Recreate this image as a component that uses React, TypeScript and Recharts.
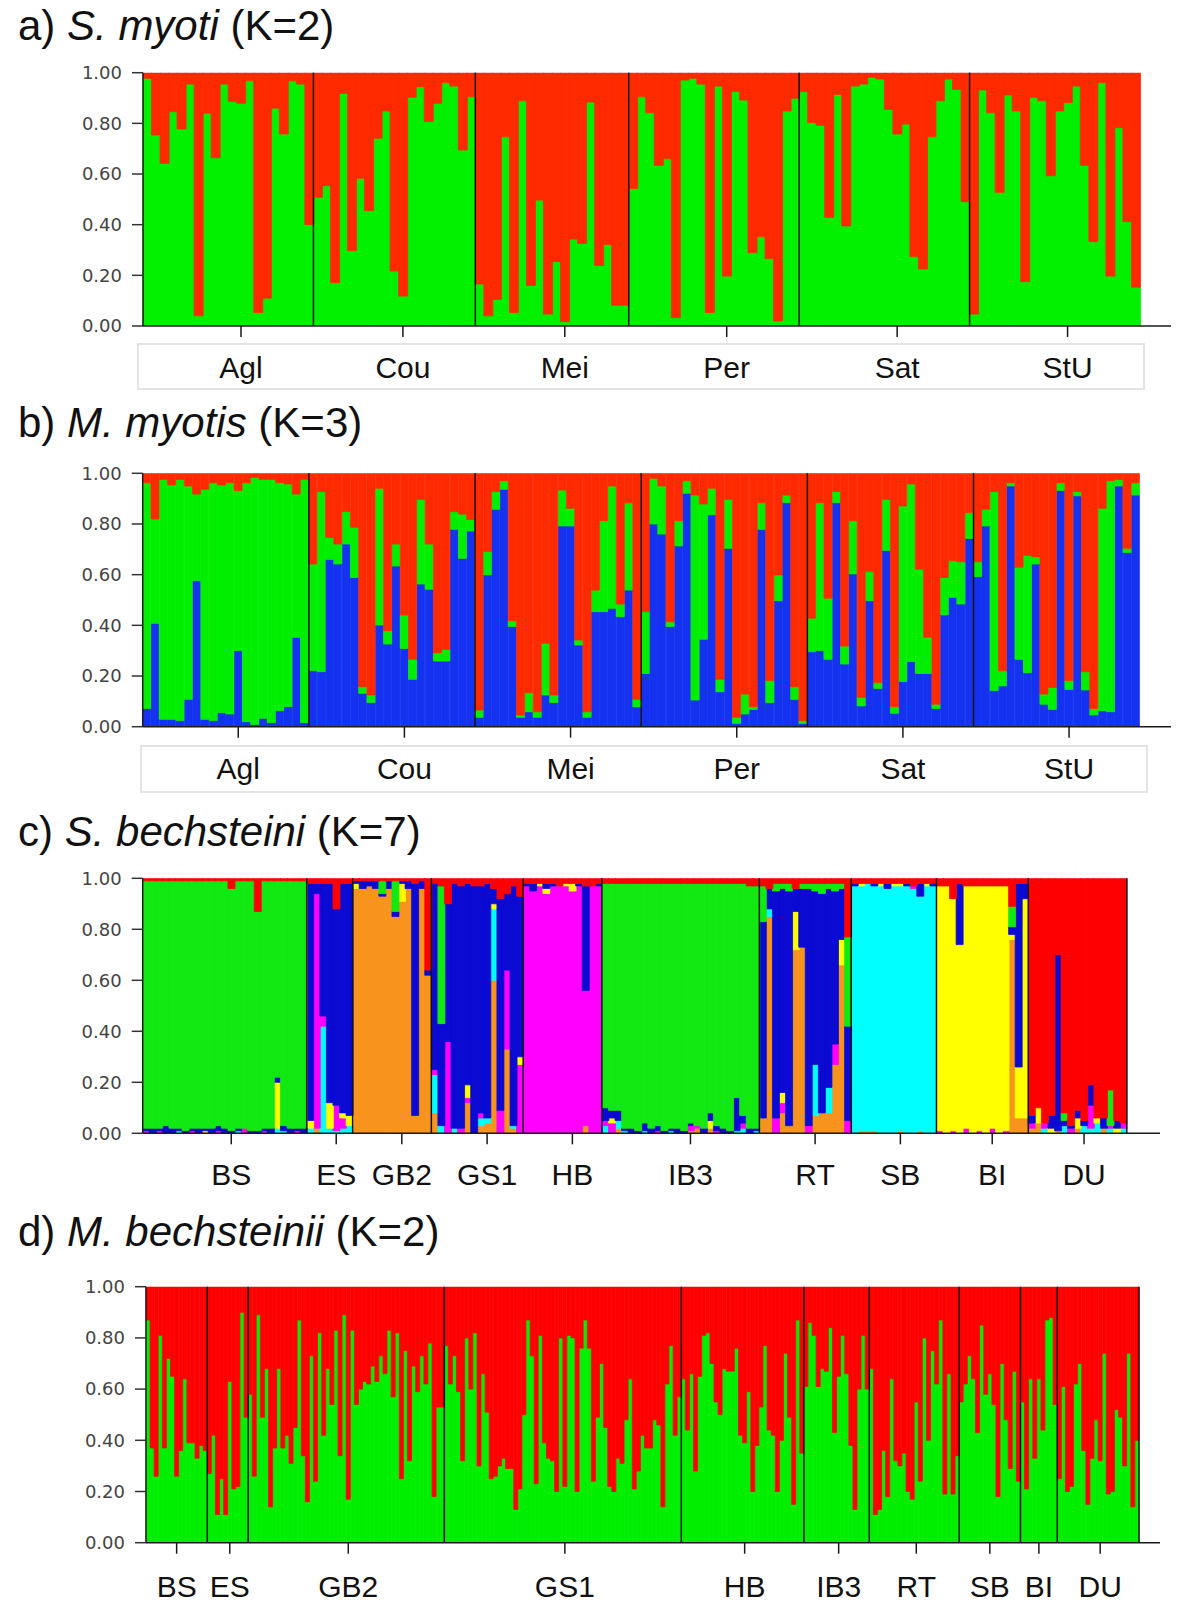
import React from 'react'
import { BarChart, Bar, XAxis, YAxis, ReferenceLine } from 'recharts'

// a) S. myoti (K=2): green membership per individual, red = the rest
const popsA = ['Agl', 'Cou', 'Mei', 'Per', 'Sat', 'StU']
const sizesA = [20, 19, 18, 20, 20, 20]
const greenA = [
  0.978, 0.754, 0.642, 0.846, 0.778, 0.955, 0.04, 0.84, 0.664, 0.955, 0.886, 0.879, 0.968, 0.053, 0.11, 0.86, 0.758, 0.968, 0.955, 0.4,
  0.508, 0.554, 0.171, 0.918, 0.297, 0.583, 0.455, 0.741, 0.849, 0.217, 0.118, 0.903, 0.945, 0.807, 0.879, 0.961, 0.947, 0.695, 0.905,
  0.166, 0.04, 0.105, 0.747, 0.053, 0.889, 0.16, 0.497, 0.047, 0.254, 0.017, 0.343, 0.326, 0.884, 0.239, 0.322, 0.082, 0.082,
  0.543, 0.905, 0.842, 0.634, 0.66, 0.033, 0.971, 0.978, 0.955, 0.053, 0.947, 0.197, 0.926, 0.892, 0.289, 0.353, 0.266, 0.02, 0.849, 0.899,
  0.925, 0.803, 0.792, 0.429, 0.914, 0.395, 0.947, 0.955, 0.982, 0.975, 0.855, 0.758, 0.797, 0.274, 0.225, 0.747, 0.889, 0.975, 0.934, 0.491,
  0.047, 0.932, 0.842, 0.528, 0.912, 0.849, 0.175, 0.903, 0.889, 0.593, 0.849, 0.882, 0.947, 0.634, 0.333, 0.961, 0.197, 0.783, 0.412, 0.153,
]

// b) M. myotis (K=3): blue share, and top of the green segment (blue + green); red fills the rest
const popsB = ['Agl', 'Cou', 'Mei', 'Per', 'Sat', 'StU']
const sizesB = [20, 20, 20, 20, 20, 20]
const blueB = [
  0.072, 0.408, 0.029, 0.029, 0.024, 0.108, 0.576, 0.029, 0.024, 0.055, 0.05, 0.3, 0.02, 0.009, 0.033, 0.016, 0.063, 0.079, 0.353, 0.016,
  0.221, 0.217, 0.66, 0.642, 0.721, 0.589, 0.132, 0.095, 0.401, 0.326, 0.634, 0.309, 0.187, 0.563, 0.542, 0.259, 0.259, 0.779, 0.664, 0.772,
  0.037, 0.599, 0.858, 0.937, 0.395, 0.037, 0.059, 0.037, 0.125, 0.095, 0.792, 0.792, 0.322, 0.037, 0.454, 0.454, 0.467, 0.434, 0.539, 0.078,
  0.21, 0.8, 0.76, 0.395, 0.713, 0.921, 0.105, 0.345, 0.836, 0.138, 0.704, 0.013, 0.05, 0.068, 0.779, 0.095, 0.497, 0.884, 0.108, 0.013,
  0.296, 0.3, 0.266, 0.884, 0.247, 0.603, 0.082, 0.497, 0.151, 0.695, 0.053, 0.178, 0.257, 0.21, 0.21, 0.072, 0.441, 0.511, 0.484, 0.743,
  0.592, 0.792, 0.142, 0.161, 0.95, 0.266, 0.213, 0.642, 0.089, 0.068, 0.932, 0.147, 0.911, 0.145, 0.046, 0.063, 0.059, 0.95, 0.687, 0.914,
]
const greenTopB = [
  0.963, 0.82, 0.976, 0.954, 0.976, 0.95, 0.918, 0.937, 0.963, 0.954, 0.963, 0.932, 0.963, 0.984, 0.976, 0.976, 0.963, 0.958, 0.918, 0.976,
  0.642, 0.928, 0.747, 0.721, 0.849, 0.787, 0.158, 0.125, 0.941, 0.379, 0.721, 0.441, 0.266, 0.897, 0.721, 0.292, 0.305, 0.849, 0.839, 0.818,
  0.066, 0.691, 0.928, 0.971, 0.418, 0.046, 0.134, 0.059, 0.329, 0.125, 0.934, 0.862, 0.342, 0.059, 0.539, 0.813, 0.95, 0.484, 0.884, 0.108,
  0.454, 0.98, 0.95, 0.414, 0.813, 0.971, 0.914, 0.879, 0.941, 0.187, 0.897, 0.037, 0.129, 0.079, 0.884, 0.182, 0.599, 0.914, 0.158, 0.024,
  0.428, 0.884, 0.507, 0.928, 0.318, 0.813, 0.116, 0.612, 0.174, 0.897, 0.079, 0.871, 0.958, 0.621, 0.353, 0.089, 0.589, 0.655, 0.651, 0.845,
  0.651, 0.858, 0.928, 0.221, 0.963, 0.629, 0.676, 0.671, 0.129, 0.155, 0.963, 0.182, 0.928, 0.217, 0.072, 0.862, 0.971, 0.976, 0.704, 0.963,
]

// c) S. bechsteini (K=7): per individual, percent in each cluster
// o orange, c cyan, m magenta, y yellow, b blue, g green, r red
const popsC = ['BS', 'ES', 'GB2', 'GS1', 'HB', 'IB3', 'RT', 'SB', 'BI', 'DU']
const bsC = [
  'm1 b1 g97 r1', 'b2 g97 r1', 'm1 b1 g97 r1', 'b3 g96 r1', 'b2 g97 r1', 'c1 b1 g97 r1', 'b1 g98 r1', 'm1 b1 g97 r1',
  'b2 g97 r1', 'y1 b1 g97 r1', 'b2 g97 r1', 'm1 b2 g96 r1', 'b2 g97 r1', 'b1 g95 r4', 'c1 b1 g97 r1', 'm2 g97 r1',
  'b1 g98 r1', 'b1 g86 r13', 'm1 b1 g97 r1', 'b2 g97 r1', 'c2 y18 b2 g77 r1', 'c1 b2 g96 r1', 'b2 g97 r1', 'm1 b1 g97 r1', 'b2 g97 r1',
]
const esC = ['y3 c2 b93 r2', 'o2 m92 b4 r2', 'c42 m4 b52 r2', 'y10 c2 b86 r2', 'c1 m10 b77 r12', 'c2 m4 y2 b90 r2', 'c3 y4 b91 r2']
const gb2C = [
  'o96 y2 b1 r1', 'o96 b3 r1', 'o97 b2 r1', 'o96 b3 r1', 'o93 g5 b1 r1', 'o96 b3 r1',
  'o85 b2 g12 r1', 'o91 y7 b1 r1', 'o96 b3 r1', 'o7 b91 r2', 'o96 b3 r1', 'o62 b2 r36',
]
const gs1C = [
  'o8 c15 m2 b73 r2', 'c3 b40 g54 r3', 'm36 b54 r10', 'c2 b96 r2', 'm2 b95 r3', 'o12 y5 m2 b79 r2', 'b97 r3',
  'o3 c3 m2 b89 r3', 'o4 c2 b92 r2', 'o60 c28 y2 b6 r4', 'm9 b83 r8', 'o33 m31 b30 r6', 'o2 c1 b94 r3', 'm27 y3 b63 r7',
]
const hbC = [
  'm97 b1 r2', 'm95 b3 r2', 'm97 y1 r2', 'm94 y2 b2 r2', 'm97 b1 r2', 'm97 r3',
  'm97 y1 r2', 'm95 y3 r2', 'm97 b1 r2', 'o3 m53 b41 r3', 'm97 r3', 'm97 b1 r2',
]
const ib3C = [
  'c3 m2 b5 g88 r2', 'm4 y2 b3 g89 r2', 'c3 o2 b4 g89 r2', 'c1 b1 g96 r2', 'b2 g96 r2', 'b1 g97 r2',
  'c1 b3 g94 r2', 'b2 g96 r2', 'm1 b2 g95 r2', 'b1 g97 r2', 'c1 b1 g96 r2', 'b2 g96 r2',
  'b1 g97 r2', 'o1 m2 b1 g94 r2', 'o2 m1 g95 r2', 'b2 g96 r2', 'o2 y3 b3 g90 r2', 'm1 b2 g95 r2',
  'b2 g96 r2', 'b1 g97 r2', 'c1 b13 g84 r2', 'c2 m2 b3 g91 r2', 'b2 g95 r3', 'c1 b1 g95 r3',
]
const rtC = [
  'o6 b77 g14 r3', 'o85 c3 b8 r4', 'm6 b89 g3 r2', 'o8 m4 y4 b80 g2 r2', 'o3 b92 g3 r2', 'o72 y15 b9 r4', 'o73 b23 g2 r2',
  'm3 b93 g2 r2', 'o7 c20 b68 g3 r2', 'o8 b86 g4 r2', 'o8 c10 b78 g2 r2', 'o27 m8 b60 g3 r2', 'o66 y10 b20 g2 r2', 'm5 b37 g35 r23',
]
const sbC = [
  'c97 b1 r2', 'o1 c96 y1 r2', 'o1 c97 r2', 'o1 c96 b1 r2', 'c97 y1 r2', 'c96 b2 r2', 'c97 y1 r2',
  'o1 c96 y1 r2', 'c97 b1 r2', 'c96 m1 r3', 'o1 c92 b5 r2', 'c97 y1 r2', 'c97 b1 r2',
]
const biC = [
  'm1 y96 r3', 'y97 r3', 'm1 y91 r8', 'y74 b24 r2', 'm2 y95 r3', 'y97 r3', 'm1 y96 r3',
  'y97 r3', 'm2 y95 r3', 'y97 r3', 'm1 y96 r3', 'o76 y2 b3 g8 r11', 'o6 y20 b72 r2', 'o6 y86 b6 r2',
]
const duC = [
  'o2 m2 b3 r93', 'o4 y6 r90', 'c2 m2 r96', 'y2 b5 r93', 'o1 b69 r30', 'c3 b2 g3 r92', 'm2 b1 r97', 'o2 y4 b3 r91',
  'c3 b2 r95', 'c2 m9 b8 r81', 'c4 y2 r94', 'o2 b4 r94', 'c2 m1 g14 r83', 'y2 b3 r95', 'm2 c2 r96',
]

// d) M. bechsteinii (K=2): green membership per individual
const popsD = ['BS', 'ES', 'GB2', 'GS1', 'HB', 'IB3', 'RT', 'SB', 'BI', 'DU']
const bsD = [0.87, 0.37, 0.26, 0.81, 0.37, 0.72, 0.65, 0.26, 0.36, 0.64, 0.39, 0.39, 0.33, 0.38, 0.36]
const esD = [0.27, 0.42, 0.11, 0.25, 0.11, 0.63, 0.21, 0.22, 0.9, 0.49]
const gb2D = [
  0.58, 0.26, 0.89, 0.49, 0.68, 0.14, 0.37, 0.68, 0.37, 0.42, 0.31, 0.45, 0.87, 0.34, 0.16, 0.73, 0.24, 0.82, 0.42, 0.68,
  0.54, 0.83, 0.34, 0.89, 0.17, 0.83, 0.54, 0.6, 0.63, 0.62, 0.69, 0.63, 0.73, 0.66, 0.83, 0.57, 0.82, 0.25, 0.75, 0.32,
  0.69, 0.59, 0.73, 0.62, 0.78, 0.18, 0.53, 0.53,
]
const gs1D = [
  0.77, 0.62, 0.73, 0.59, 0.32, 0.8, 0.6, 0.82, 0.3, 0.66, 0.51, 0.25, 0.26, 0.3, 0.33, 0.29, 0.29, 0.13, 0.21, 0.5,
  0.87, 0.73, 0.23, 0.81, 0.39, 0.33, 0.32, 0.2, 0.8, 0.22, 0.81, 0.8, 0.2, 0.76, 0.87, 0.76, 0.24, 0.49, 0.7, 0.45,
  0.22, 0.2, 0.33, 0.31, 0.48, 0.64, 0.21, 0.28, 0.42, 0.37, 0.37, 0.48, 0.46, 0.14, 0.62, 0.77, 0.42, 0.57,
]
const hbD = [
  0.64, 0.44, 0.66, 0.28, 0.65, 0.81, 0.82, 0.7, 0.55, 0.5, 0.68, 0.67, 0.67, 0.76, 0.42, 0.39, 0.59, 0.2, 0.38, 0.53,
  0.77, 0.44, 0.42, 0.2, 0.4, 0.74, 0.49, 0.15, 0.87, 0.35,
]
const ib3D = [0.61, 0.86, 0.81, 0.61, 0.68, 0.67, 0.84, 0.43, 0.65, 0.81, 0.66, 0.38, 0.13, 0.6, 0.81, 0.6]
const rtD = [0.68, 0.11, 0.13, 0.36, 0.18, 0.64, 0.32, 0.3, 0.35, 0.2, 0.17, 0.55, 0.24, 0.8, 0.4, 0.75, 0.62, 0.87, 0.19, 0.66, 0.19, 0.34]
const sbD = [0.55, 0.62, 0.73, 0.64, 0.43, 0.85, 0.58, 0.66, 0.54, 0.18, 0.7, 0.48, 0.29, 0.67, 0.24]
const biD = [0.55, 0.21, 0.64, 0.33, 0.64, 0.44, 0.87, 0.88, 0.54]
const duD = [0.25, 0.61, 0.2, 0.22, 0.62, 0.7, 0.36, 0.15, 0.33, 0.48, 0.32, 0.74, 0.19, 0.2, 0.52, 0.49, 0.3, 0.74, 0.14, 0.4]

const FONT = 'Liberation Sans, Arial, Helvetica, sans-serif'
const KEYS_C = ['o', 'c', 'm', 'y', 'b', 'g', 'r']
const COLORS_C: Record<string, string> = {
  o: '#f7941e', c: '#00ffff', m: '#ff00ff', y: '#ffff00', b: '#0a0ad2', g: '#12e812', r: '#ff0000',
}

type Group = { name: string; start: number; n: number }

function makeGroups(pops: string[], sizes: number[]): Group[] {
  let s = 0
  return pops.map((name, k) => {
    const g = { name, start: s, n: sizes[k] }
    s += sizes[k]
    return g
  })
}

const groupsA = makeGroups(popsA, sizesA)
const dataA = greenA.map((g, i) => ({ i, g, r: 1 - g }))

const groupsB = makeGroups(popsB, sizesB)
const dataB = blueB.map((b, i) => ({ i, b, g: greenTopB[i] - b, r: 1 - greenTopB[i] }))

const indC = [bsC, esC, gb2C, gs1C, hbC, ib3C, rtC, sbC, biC, duC]
const groupsC = makeGroups(popsC, indC.map((p) => p.length))
const dataC = indC.flat().map((s, i) => {
  const row: Record<string, number> = { i }
  let total = 0
  for (const part of s.split(' ')) total += Number(part.slice(1))
  for (const k of KEYS_C) row[k] = 0
  for (const part of s.split(' ')) row[part[0]] = Number(part.slice(1)) / total
  return row
})

const indD = [bsD, esD, gb2D, gs1D, hbD, ib3D, rtD, sbD, biD, duD]
const groupsD = makeGroups(popsD, indD.map((p) => p.length))
const dataD = indD.flat().map((g, i) => ({ i, g, r: 1 - g }))

type PanelProps = {
  top: number
  height: number
  plotTop: number
  plotBottom: number
  plotLeft: number
  barsRight: number
  axisRight: number
  data: Record<string, number>[]
  series: { key: string; color: string }[]
  groups: Group[]
  tickAt: (g: Group) => number
  labelCenter: number
  endLine?: boolean
}

function Panel(p: PanelProps) {
  const yW = 70
  const xH = 60
  const margin = {
    top: p.plotTop - p.top,
    bottom: p.top + p.height - p.plotBottom - xH,
    left: p.plotLeft - yW,
    right: 1200 - p.axisRight,
  }
  const names = new Map<number, string>()
  p.groups.forEach((g) => names.set(p.tickAt(g), g.name))
  const ticks = Array.from(names.keys())
  const labelDy = p.labelCenter - p.plotBottom - 11
  const last = p.data.length - 1

  return (
    <div style={{ position: 'absolute', left: 0, top: p.top }}>
      <BarChart width={1200} height={p.height} data={p.data} margin={margin} barCategoryGap={0} barGap={0}>
        <XAxis
          dataKey="i"
          type="category"
          ticks={ticks}
          interval={0}
          height={xH}
          tickSize={11}
          tickMargin={0}
          padding={{ left: 0, right: p.axisRight - p.barsRight }}
          axisLine={{ stroke: '#1a1a1a', strokeWidth: 1.5 }}
          tickLine={{ stroke: '#1a1a1a', strokeWidth: 1.5 }}
          tick={(t: any) => (
            <text
              x={t.x}
              y={t.y + labelDy}
              textAnchor="middle"
              dominantBaseline="central"
              fontSize={30}
              fontFamily={FONT}
              fill="#111"
            >
              {names.get(t.payload.value)}
            </text>
          )}
        />
        <YAxis
          type="number"
          domain={[0, 1]}
          allowDataOverflow
          ticks={[0, 0.2, 0.4, 0.6, 0.8, 1]}
          tickFormatter={(v: number) => v.toFixed(2)}
          width={yW}
          tickSize={11}
          tickMargin={10}
          axisLine={{ stroke: '#1a1a1a', strokeWidth: 1.5 }}
          tickLine={{ stroke: '#333', strokeWidth: 1.5 }}
          tick={{ fontSize: 18, fill: '#444', fontFamily: 'DejaVu Sans' }}
        />
        {p.series.map((s) => (
          <Bar
            key={s.key}
            dataKey={s.key}
            stackId="q"
            fill={s.color}
            stroke={s.color}
            strokeWidth={0.8}
            isAnimationActive={false}
          />
        ))}
        {p.groups.slice(1).map((g) => (
          <ReferenceLine key={g.name} x={g.start} position="start" stroke="#111" strokeWidth={1.5} />
        ))}
        {p.endLine && <ReferenceLine x={last} position="end" stroke="#111" strokeWidth={1.5} />}
      </BarChart>
    </div>
  )
}

function Title({ top, tag, species, k }: { top: number; tag: string; species: string; k: number }) {
  return (
    <div
      style={{
        position: 'absolute',
        left: 18,
        top,
        fontFamily: FONT,
        fontSize: 42,
        lineHeight: '42px',
        color: '#111',
        whiteSpace: 'nowrap',
      }}
    >
      {tag} <i>{species}</i> (K={k})
    </div>
  )
}

function LabelBox({ left, top, width, height }: { left: number; top: number; width: number; height: number }) {
  return (
    <div
      style={{
        position: 'absolute',
        left,
        top,
        width,
        height,
        border: '2px solid #e4e4e4',
        boxSizing: 'border-box',
      }}
    />
  )
}

// labels in a), b) and c) sit one bar right of the middle of each population
const tickShifted = (g: Group) => g.start + Math.floor(g.n / 2) + 1
const tickMiddle = (g: Group) => g.start + Math.floor(g.n / 2)

export default function App() {
  return (
    <div style={{ position: 'absolute', left: 0, top: 0, width: 1200, height: 1608, background: '#fff', overflow: 'hidden' }}>
      <Title top={5} tag="a)" species="S. myoti" k={2} />
      <LabelBox left={137} top={343} width={1008} height={47} />
      <Panel
        top={50}
        height={360}
        plotTop={72.7}
        plotBottom={326}
        plotLeft={143}
        barsRight={1140}
        axisRight={1171}
        data={dataA}
        series={[
          { key: 'g', color: '#00f000' },
          { key: 'r', color: '#ff2a00' },
        ]}
        groups={groupsA}
        tickAt={tickShifted}
        labelCenter={367}
      />

      <Title top={402} tag="b)" species="M. myotis" k={3} />
      <LabelBox left={140} top={745} width={1008} height={48} />
      <Panel
        top={450}
        height={360}
        plotTop={473.3}
        plotBottom={726.7}
        plotLeft={142.7}
        barsRight={1139.7}
        axisRight={1171}
        data={dataB}
        series={[
          { key: 'b', color: '#1432f0' },
          { key: 'g', color: '#00ee00' },
          { key: 'r', color: '#ff2a00' },
        ]}
        groups={groupsB}
        tickAt={tickShifted}
        labelCenter={768}
      />

      <Title top={811} tag="c)" species="S. bechsteini" k={7} />
      <Panel
        top={855}
        height={350}
        plotTop={878.3}
        plotBottom={1133.3}
        plotLeft={142.7}
        barsRight={1126.7}
        axisRight={1160}
        data={dataC}
        series={KEYS_C.map((k) => ({ key: k, color: COLORS_C[k] }))}
        groups={groupsC}
        tickAt={tickShifted}
        labelCenter={1174}
        endLine
      />

      <Title top={1211} tag="d)" species="M. bechsteinii" k={2} />
      <Panel
        top={1262}
        height={346}
        plotTop={1286.7}
        plotBottom={1542.7}
        plotLeft={146}
        barsRight={1139}
        axisRight={1160}
        data={dataD}
        series={[
          { key: 'g', color: '#00ee00' },
          { key: 'r', color: '#ff0000' },
        ]}
        groups={groupsD}
        tickAt={tickMiddle}
        labelCenter={1586.7}
        endLine
      />
    </div>
  )
}
